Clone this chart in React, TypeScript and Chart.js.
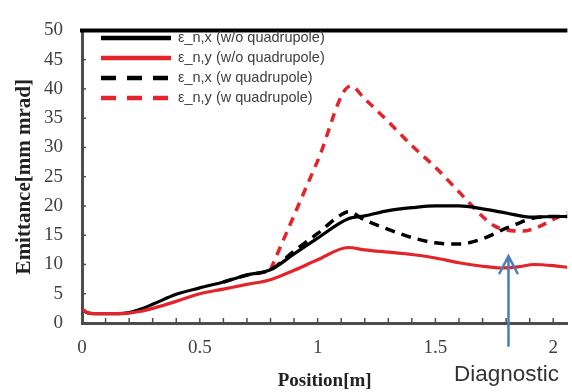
import React, { useEffect, useRef } from 'react';
import { Chart, registerables } from 'chart.js';

Chart.register(...registerables);

// Position [m] and normalized emittance [mm mrad] for each beamline configuration
const posXNoQuad = [0, 0.02, 0.05, 0.15, 0.2, 0.25, 0.3, 0.4, 0.5, 0.6, 0.7, 0.8, 0.9, 1.0, 1.13, 1.2, 1.3, 1.4, 1.5, 1.6, 1.7, 1.8, 1.9, 2.0, 2.06];
const emitXNoQuad = [2.4, 1.8, 1.6, 1.6, 1.8, 2.4, 3.2, 4.9, 6.0, 7.0, 8.2, 9.1, 11.8, 14.5, 17.8, 18.3, 19.2, 19.7, 20.0, 20.0, 19.5, 18.8, 18.1, 18.2, 18.2];

const posYNoQuad = [0, 0.02, 0.05, 0.15, 0.2, 0.25, 0.3, 0.4, 0.5, 0.6, 0.7, 0.8, 0.9, 1.0, 1.13, 1.2, 1.3, 1.4, 1.5, 1.6, 1.7, 1.78, 1.85, 1.92, 2.0, 2.06];
const emitYNoQuad = [2.4, 1.8, 1.6, 1.6, 1.7, 2.0, 2.5, 3.7, 5.0, 5.8, 6.6, 7.4, 9.0, 10.8, 12.9, 12.5, 12.1, 11.7, 11.1, 10.3, 9.7, 9.4, 9.6, 10.0, 9.8, 9.5];

const posXQuad = [0.6, 0.7, 0.8, 0.9, 1.0, 1.1, 1.13, 1.2, 1.3, 1.4, 1.5, 1.6, 1.7, 1.8, 1.85, 1.9, 2.0, 2.06];
const emitXQuad = [7.0, 8.2, 9.1, 12.3, 15.3, 18.5, 19.0, 17.6, 16.0, 14.6, 13.7, 13.5, 14.4, 16.2, 17.0, 17.8, 18.2, 18.2];

const posYQuad = [0.8, 0.9, 1.0, 1.14, 1.2, 1.3, 1.4, 1.5, 1.6, 1.7, 1.75, 1.8, 1.87, 1.93, 2.0, 2.06];
const emitYQuad = [9.1, 18.4, 27.7, 40.5, 38.3, 34.4, 30.3, 26.6, 22.4, 18.2, 16.6, 15.9, 15.7, 16.3, 17.7, 18.8];

// legend order, top to bottom
const seriesLabels = [
  'ε_n,x (w/o quadrupole)',
  'ε_n,y (w/o quadrupole)',
  'ε_n,x (w quadrupole)',
  'ε_n,y (w quadrupole)',
];

const xTickLabels = [0, 0.5, 1, 1.5, 2];
const diagnosticPos = 1.81;
const diagnosticTip = 11.4;
const diagnosticTail = -3.9;
const diagnosticLabel = 'Diagnostic';

const RED = '#e3242b';
const BLACK = '#000000';
const AXIS = '#4d4d4d';
const TEXT = '#404040';

const zip = (xs: number[], ys: number[]) => xs.map((x, i) => ({ x, y: ys[i] }));

// Legend, inner tick marks, top frame line and the diagnostic arrow
const decorations = {
  id: 'decorations',
  afterDatasetsDraw(chart: any) {
    const { ctx, chartArea, scales } = chart;
    const xs = scales.x;
    const ys = scales.y;
    ctx.save();

    // top frame
    ctx.strokeStyle = BLACK;
    ctx.lineWidth = 4;
    ctx.beginPath();
    ctx.moveTo(chartArea.left - 2, chartArea.top);
    ctx.lineTo(chartArea.right, chartArea.top);
    ctx.stroke();

    // inner minor ticks
    ctx.strokeStyle = AXIS;
    ctx.lineWidth = 1.5;
    for (let i = 1; i <= 20; i++) {
      const px = xs.getPixelForValue(i / 10);
      ctx.beginPath();
      ctx.moveTo(px, chartArea.bottom);
      ctx.lineTo(px, chartArea.bottom - 5);
      ctx.stroke();
    }
    for (let v = 5; v <= 45; v += 5) {
      const py = ys.getPixelForValue(v);
      ctx.beginPath();
      ctx.moveTo(chartArea.left, py);
      ctx.lineTo(chartArea.left + 4, py);
      ctx.stroke();
    }

    // legend
    const ds = chart.data.datasets;
    ctx.font = '14.5px "Liberation Sans", sans-serif';
    ctx.textBaseline = 'middle';
    seriesLabels.forEach((label, i) => {
      const d = ds.find((s: any) => s.label === label);
      if (!d) return;
      const y = 38 + i * 20;
      ctx.strokeStyle = d.borderColor;
      ctx.lineWidth = 4.5;
      ctx.lineCap = 'butt';
      ctx.setLineDash(d.borderDash && d.borderDash.length ? [15, 11] : []);
      ctx.beginPath();
      ctx.moveTo(101, y);
      ctx.lineTo(171, y);
      ctx.stroke();
      ctx.setLineDash([]);
      ctx.fillStyle = TEXT;
      ctx.fillText(label, 178, y);
    });

    // diagnostic arrow
    const ax = xs.getPixelForValue(diagnosticPos);
    const tipY = ys.getPixelForValue(diagnosticTip);
    const tailY = ys.getPixelForValue(diagnosticTail);
    ctx.strokeStyle = '#4a7ebb';
    ctx.lineWidth = 2.5;
    ctx.lineCap = 'round';
    ctx.beginPath();
    ctx.moveTo(ax, tailY);
    ctx.lineTo(ax, tipY);
    ctx.moveTo(ax - 9, tipY + 17);
    ctx.lineTo(ax, tipY);
    ctx.lineTo(ax + 9, tipY + 17);
    ctx.stroke();

    ctx.fillStyle = '#333333';
    ctx.font = '22.5px "Liberation Sans", sans-serif';
    ctx.textAlign = 'center';
    ctx.textBaseline = 'alphabetic';
    ctx.fillText(diagnosticLabel, ax - 2, 381);
    ctx.restore();
  },
};

export default function App() {
  const canvasRef = useRef<HTMLCanvasElement | null>(null);

  useEffect(() => {
    const canvas = canvasRef.current;
    if (!canvas) return;
    const line = (label: string, data: any[], color: string, dash: number[], width: number) => ({
      label,
      data,
      borderColor: color,
      backgroundColor: color,
      borderWidth: width,
      borderDash: dash,
      pointRadius: 0,
      fill: false,
      cubicInterpolationMode: 'monotone' as const,
    });
    const chart = new Chart(canvas, {
      type: 'line',
      data: {
        // first dataset is painted on top
        datasets: [
          line(seriesLabels[1], zip(posYNoQuad, emitYNoQuad), RED, [], 3.2),
          line(seriesLabels[0], zip(posXNoQuad, emitXNoQuad), BLACK, [], 3.2),
          line(seriesLabels[2], zip(posXQuad, emitXQuad), BLACK, [10, 7], 3.5),
          line(seriesLabels[3], zip(posYQuad, emitYQuad), RED, [9, 7], 3.5),
        ],
      },
      options: {
        responsive: false,
        animation: false,
        layout: { padding: { top: 15, left: 0, right: 0, bottom: 0 } },
        plugins: { legend: { display: false }, tooltip: { enabled: false } },
        scales: {
          x: {
            type: 'linear',
            min: 0,
            max: 2.06,
            afterFit: (s: any) => { s.height = 69; },
            grid: { display: false, drawTicks: false },
            border: { display: true, color: AXIS, width: 3 },
            ticks: {
              stepSize: 0.5,
              includeBounds: false,
              padding: 14,
              color: TEXT,
              font: { family: '"Liberation Serif", serif', size: 19 },
              callback: (v: any) => (xTickLabels.includes(Number(v)) ? String(v) : ''),
            },
            title: {
              display: true,
              text: 'Position[m]',
              color: '#222222',
              font: { family: '"Liberation Serif", serif', size: 19, weight: 'bold' },
              padding: { top: 0, bottom: 0 },
            },
          },
          y: {
            min: 0,
            max: 50,
            afterFit: (s: any) => { s.width = 82; },
            grid: { display: false, drawTicks: false },
            border: { display: true, color: AXIS, width: 3 },
            ticks: {
              stepSize: 5,
              padding: 19,
              color: TEXT,
              font: { family: '"Liberation Serif", serif', size: 19 },
            },
            title: {
              display: true,
              text: 'Emittance[mm mrad]',
              color: '#222222',
              font: { family: '"Liberation Serif", serif', size: 21, weight: 'bold' },
              padding: { top: 12, bottom: 0 },
            },
          },
        },
      },
      plugins: [decorations],
    });
    return () => chart.destroy();
  }, []);

  return (
    <div style={{ position: 'absolute', left: 0, top: 0, width: 572, height: 392, background: '#ffffff' }}>
      <canvas ref={canvasRef} width={572} height={392} style={{ display: 'block' }} />
    </div>
  );
}
